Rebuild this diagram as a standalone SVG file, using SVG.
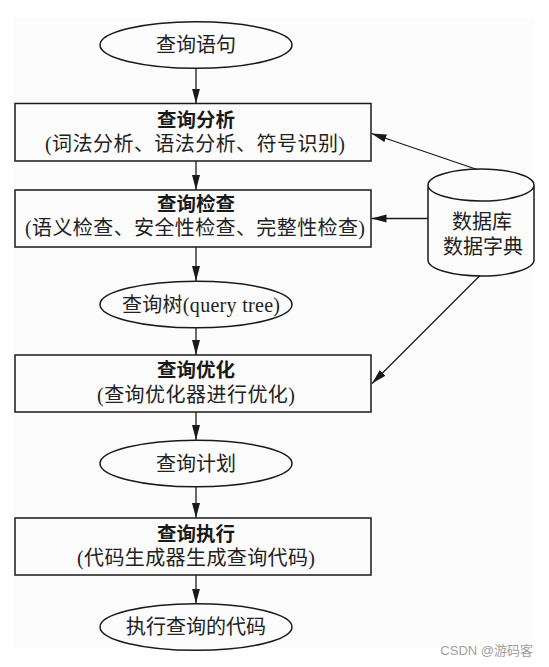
<svg xmlns="http://www.w3.org/2000/svg" width="549" height="667" viewBox="0 0 549 667">
<defs>
<style>
.shape{fill:none;stroke:#1a1a1a;stroke-width:1.5}
.line{fill:none;stroke:#1a1a1a;stroke-width:1.3}
.t{font-family:"Liberation Serif","Noto Sans CJK SC",serif;font-size:20px;fill:#222;text-anchor:middle;dominant-baseline:central}
.b{font-family:"Noto Sans CJK SC","Liberation Sans",sans-serif;font-size:19.5px;font-weight:bold;fill:#1a1a1a;text-anchor:middle;dominant-baseline:central}
.wm{font-family:"Liberation Sans","Noto Sans CJK SC",sans-serif;font-size:13px;fill:#a0a0a0;text-anchor:end}
</style>
<marker id="ah" markerUnits="userSpaceOnUse" markerWidth="16" markerHeight="10" refX="15" refY="4" orient="auto">
<path d="M0,0 L15,4 L0,8 Z" fill="#1a1a1a"/>
</marker>
</defs>
<rect x="13" y="18" width="521" height="630" fill="#fcfcfc"/>
<g id="connectors">
<line class="line" x1="196" y1="68.5" x2="196" y2="103.5" marker-end="url(#ah)"/>
<line class="line" x1="196" y1="161" x2="196" y2="190" marker-end="url(#ah)"/>
<line class="line" x1="196" y1="247" x2="196" y2="281" marker-end="url(#ah)"/>
<line class="line" x1="196" y1="327.5" x2="196" y2="355" marker-end="url(#ah)"/>
<line class="line" x1="196" y1="412" x2="196" y2="440" marker-end="url(#ah)"/>
<line class="line" x1="196" y1="487" x2="196" y2="518" marker-end="url(#ah)"/>
<line class="line" x1="196" y1="575" x2="196" y2="603.5" marker-end="url(#ah)"/>
<line class="line" x1="477" y1="169.5" x2="371.5" y2="133.5" marker-end="url(#ah)"/>
<line class="line" x1="428" y1="218.5" x2="371.5" y2="218.5" marker-end="url(#ah)"/>
<line class="line" x1="480" y1="275.5" x2="372" y2="383.5" marker-end="url(#ah)"/>
</g>
<g id="n_stmt">
<ellipse class="shape" cx="196" cy="45" rx="96" ry="23.3"/>
<text class="t" x="196" y="45">查询语句</text>
</g>
<g id="n_parse">
<rect class="shape" x="15" y="103.5" width="356" height="57.5"/>
<text class="b" x="196" y="118">查询分析</text>
<text class="t" x="195" y="143.5" textLength="300" lengthAdjust="spacing">(词法分析、语法分析、符号识别)</text>
</g>
<g id="n_check">
<rect class="shape" x="15" y="190" width="356" height="57"/>
<text class="b" x="196" y="202.5">查询检查</text>
<text class="t" x="195" y="227.5" textLength="340" lengthAdjust="spacing">(语义检查、安全性检查、完整性检查)</text>
</g>
<g id="n_tree">
<ellipse class="shape" cx="196" cy="304.5" rx="96" ry="23.3"/>
<text class="t" x="201" y="304.5" textLength="158" lengthAdjust="spacing">查询树(query tree)</text>
</g>
<g id="n_opt">
<rect class="shape" x="15" y="355" width="356" height="57"/>
<text class="b" x="196" y="368.5">查询优化</text>
<text class="t" x="196" y="394.5" textLength="198" lengthAdjust="spacing">(查询优化器进行优化)</text>
</g>
<g id="n_plan">
<ellipse class="shape" cx="196" cy="463.5" rx="96" ry="23.3"/>
<text class="t" x="196" y="463.5">查询计划</text>
</g>
<g id="n_exec">
<rect class="shape" x="15" y="518" width="356" height="57"/>
<text class="b" x="196" y="532">查询执行</text>
<text class="t" x="196" y="558" textLength="238" lengthAdjust="spacing">(代码生成器生成查询代码)</text>
</g>
<g id="n_code">
<ellipse class="shape" cx="196" cy="627" rx="96" ry="23.3"/>
<text class="t" x="196" y="627">执行查询的代码</text>
</g>
<g id="n_db">
<path class="shape" d="M428,185 A53,16 0 0,1 534,185 A53,16 0 0,1 428,185 Z M428,185 V260 A53,16 0 0,0 534,260 V185"/>
<text class="t" x="482" y="222">数据库</text>
<text class="t" x="483" y="247">数据字典</text>
</g>
<text class="wm" x="533" y="655">CSDN @游码客</text>
</svg>
